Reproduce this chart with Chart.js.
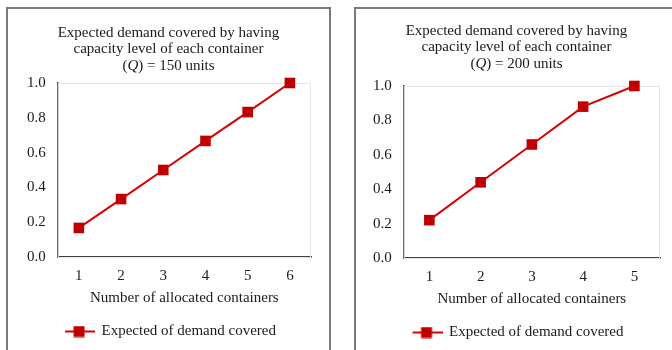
<!DOCTYPE html>
<html>
<head>
<meta charset="utf-8">
<script src="https://cdn.jsdelivr.net/npm/chart.js@4/dist/chart.umd.min.js"></script>
<style>
  html, body { margin: 0; padding: 0; background: #fff; }
  body { width: 672px; height: 350px; position: relative; overflow: hidden; }
  .panel { position: absolute; top: 7px; width: 321px; height: 360px; border: 2px solid #7a7a7a; }
  #p1 { left: 6px; }
  #p2 { left: 354px; }
  .panel canvas { position: absolute; left: 0; top: 0; }
</style>
</head>
<body>
<div class="panel" id="p1"><canvas id="c1" width="321" height="343"></canvas></div>
<div class="panel" id="p2"><canvas id="c2" width="321" height="343"></canvas></div>
<script>
// data
const containers150 = ['1', '2', '3', '4', '5', '6'];
const covered150 = [0.167, 0.333, 0.5, 0.667, 0.833, 1.0];
const containers200 = ['1', '2', '3', '4', '5'];
const covered200 = [0.22, 0.44, 0.66, 0.88, 1.0];
const yTicks = [0.0, 0.2, 0.4, 0.6, 0.8, 1.0];

const titleLines = ['Expected demand covered by having', 'capacity level of each container'];
const unitsText = { c1: ' = 150 units', c2: ' = 200 units' };
const seriesName = 'Expected of demand covered';
const xTitle = 'Number of allocated containers';

const RED = '#c00000';      // markers
const LINE_RED = '#d80000'; // connecting line is a touch brighter
const TEXT = '#1a1a1a';
const FONT = "'Liberation Serif', 'Times New Roman', serif";

// legend symbol: short line with a square on it (blank space on the left to nudge it right)
function legendSymbol() {
    const c = document.createElement('canvas');
    c.width = 46; c.height = 12;
    const g = c.getContext('2d');
    g.strokeStyle = LINE_RED; g.lineWidth = 2;
    g.beginPath(); g.moveTo(16, 6); g.lineTo(46, 6); g.stroke();
    g.fillStyle = RED; g.fillRect(24.5, 0.5, 11, 11);
    return c;
}

// faint frame round the plot area
const plotFrame = {
    id: 'plotFrame',
    beforeDatasetsDraw(chart) {
        const a = chart.chartArea, ctx = chart.ctx;
        ctx.save();
        ctx.strokeStyle = '#e6e6e6';
        ctx.lineWidth = 1;
        ctx.strokeRect(a.left + 0.5, a.top + 0.5, a.right - a.left - 1, a.bottom - a.top);
        ctx.restore();
    }
};

// three-line title, with the Q in italics
const mixedTitle = {
    id: 'mixedTitle',
    afterDraw(chart, args, opts) {
        const ctx = chart.ctx;
        const cx = chart.width / 2;
        const y0 = opts.top;
        ctx.save();
        ctx.fillStyle = TEXT;
        ctx.textBaseline = 'middle';
        ctx.textAlign = 'center';
        ctx.font = '15px ' + FONT;
        titleLines.forEach((t, i) => ctx.fillText(t, cx, y0 + i * 16.5));
        const parts = [['(', false], ['Q', true], [')' + unitsText[chart.canvas.id], false]];
        const fontFor = (it) => (it ? 'italic ' : '') + '15px ' + FONT;
        let w = 0;
        parts.forEach(p => { ctx.font = fontFor(p[1]); w += ctx.measureText(p[0]).width; });
        let x = cx - w / 2;
        ctx.textAlign = 'left';
        parts.forEach(p => {
            ctx.font = fontFor(p[1]);
            ctx.fillText(p[0], x, y0 + 33);
            x += ctx.measureText(p[0]).width;
        });
        ctx.restore();
    }
};

function makeChart(id, labels, values, pad, titleTop) {
    return new Chart(document.getElementById(id), {
        type: 'line',
        data: {
            labels: labels,
            datasets: [{
                label: seriesName,
                data: values,
                borderColor: LINE_RED,
                backgroundColor: RED,
                borderWidth: 2,
                pointStyle: 'rect',
                pointRadius: 7.5,
                pointHoverRadius: 7.5,
                pointBorderWidth: 0,
                tension: 0,
                clip: false
            }]
        },
        options: {
            responsive: false,
            animation: false,
            layout: { padding: pad },
            plugins: {
                mixedTitle: { top: titleTop },
                title: { display: false },
                legend: {
                    position: 'bottom',
                    labels: {
                        usePointStyle: true,
                        pointStyle: legendSymbol(),
                        pointStyleWidth: 44,
                        boxHeight: 12,
                        color: TEXT,
                        font: { family: FONT, size: 15 },
                        padding: 6
                    }
                },
                tooltip: { enabled: false }
            },
            scales: {
                x: {
                    offset: true,
                    grid: { display: false, drawTicks: false },
                    border: { color: '#404040', width: 1.5 },
                    ticks: { color: TEXT, font: { family: FONT, size: 15, lineHeight: 1 }, padding: 12 },
                    title: {
                        display: true, text: xTitle, color: TEXT,
                        font: { family: FONT, size: 15, lineHeight: 1 }, padding: { top: -5, bottom: 12 }
                    }
                },
                y: {
                    min: 0, max: 1,
                    afterBuildTicks: (axis) => { axis.ticks = yTicks.map(v => ({ value: v })); },
                    grid: { display: false, drawTicks: false },
                    border: { color: '#404040', width: 1.5 },
                    ticks: {
                        color: TEXT, font: { family: FONT, size: 15 }, padding: 12,
                        callback: (v) => Number(v).toFixed(1)
                    }
                }
            }
        },
        plugins: [plotFrame, mixedTitle]
    });
}

makeChart('c1', containers150, covered150, { top: 74, left: 7, right: 18, bottom: 3 }, 24);
makeChart('c2', containers200, covered200, { top: 77, left: 5, right: 17, bottom: 2 }, 22);
</script>
</body>
</html>
